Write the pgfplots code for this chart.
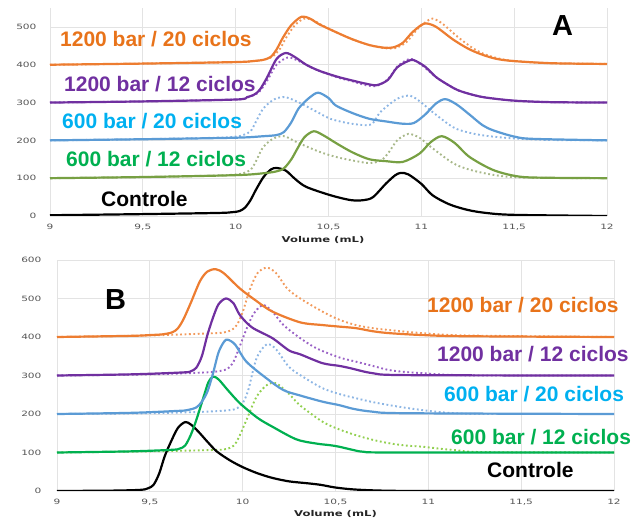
\documentclass[border=0pt]{standalone}
\usepackage{pgfplots}
\pgfplotsset{compat=1.18}
\usepackage{fontspec}
\setmainfont{Liberation Sans}
\newfontfamily\tickfont[FakeStretch=1.45]{DejaVu Sans}
\definecolor{cOr}{HTML}{ED7D31}
\definecolor{cOrD}{HTML}{F29A5C}
\definecolor{cPu}{HTML}{7030A0}
\definecolor{cPuD}{HTML}{9A62C6}
\definecolor{cBl}{HTML}{5B9BD5}
\definecolor{cBlD}{HTML}{8DB6E4}
\definecolor{cGrA}{HTML}{77A043}
\definecolor{cGrAD}{HTML}{A8B88A}
\definecolor{cGrB}{HTML}{00B050}
\definecolor{cGrBD}{HTML}{92D050}
\definecolor{lOr}{HTML}{E8731A}
\definecolor{lPu}{HTML}{7030A0}
\definecolor{lCy}{HTML}{00B0F0}
\definecolor{lGr}{HTML}{00B050}
\definecolor{gridc}{HTML}{E3E3E3}
\definecolor{tickc}{HTML}{555555}
\pgfplotsset{
  chrom/.style={
    scale only axis, xmin=9, xmax=12,
    axis line style={draw=none},
    major tick length=0pt,
    grid=major, grid style={gridc, line width=0.8pt},
    xtick={9,9.5,10,10.5,11,11.5,12},
    xticklabels={9,{9,5},10,{10,5},11,{11,5},12},
    tick label style={font=\tickfont\fontsize{7.3}{8}\selectfont, text=tickc},
    x tick label style={yshift=-5pt},
  },
  sol/.style={smooth, tension=0.5, line width=2.2pt, no markers},
  dot/.style={smooth, tension=0.5, line width=1.9pt, no markers, dash pattern=on 1.8pt off 2.6pt},
}
\newcommand{\lab}[4]{\node[anchor=base west, inner sep=0pt, text=#3, font=\bfseries\fontsize{21}{24}\selectfont] at (#1pt,#2pt) {#4};}
\begin{document}
\begin{tikzpicture}
\path[use as bounding box] (0,0) rectangle (643pt,519pt);
% ---------- Panel A ----------
\begin{axis}[chrom, at={(50pt,303pt)}, anchor=south west, width=557pt, height=208pt,
  ymin=0, ymax=550, ytick={0,100,200,300,400,500}, yticklabels={0,100,200,300,400,500},
  y tick label style={xshift=-10pt}]
% green dotted
\addplot[dot, cGrAD] coordinates {(9,100) (9.5,103) (9.9,107) (10.0,110) (10.04,113) (10.08,122) (10.11,145) (10.145,180) (10.2,204) (10.26,211) (10.33,195) (10.45,170) (10.55,155) (10.65,145) (10.72,140) (10.78,146) (10.82,165) (10.87,200) (10.93,217) (10.99,207) (11.05,183) (11.17,140) (11.25,124) (11.35,112) (11.46,104) (11.6,101) (12,100)};
% blue dotted
\addplot[dot, cBlD] coordinates {(9,200) (9.5,203) (9.9,207) (10.0,210) (10.04,214) (10.08,224) (10.11,250) (10.15,285) (10.21,309) (10.27,314) (10.35,298) (10.45,272) (10.51,257) (10.6,246) (10.7,240) (10.74,246) (10.78,275) (10.87,310) (10.94,318) (11.0,300) (11.05,279) (11.17,235) (11.26,220) (11.35,212) (11.5,205) (11.7,201) (12,200)};
% purple dotted
\addplot[dot, cPuD] coordinates {(9,300) (9.5,303) (10,308) (10.06,313) (10.1,320) (10.13,330) (10.17,358) (10.22,400) (10.28,419) (10.33,412) (10.4,395) (10.45,384) (10.55,366) (10.63,356) (10.7,346) (10.76,344) (10.82,362) (10.87,395) (10.92,412) (10.95,415) (11.0,400) (11.08,367) (11.15,345) (11.2,332) (11.28,320) (11.35,313) (11.5,305) (11.7,301) (12,300)};
% orange dotted
\addplot[dot, cOrD] coordinates {(9,400) (9.5,403) (10,407) (10.1,410) (10.16,414) (10.2,422) (10.24,443) (10.27,470) (10.32,505) (10.37,522) (10.42,517) (10.47,503) (10.55,484) (10.63,467) (10.72,452) (10.8,444) (10.86,444) (10.92,460) (10.98,495) (11.03,515) (11.06,522) (11.11,510) (11.2,472) (11.28,443) (11.35,426) (11.45,413) (11.55,408) (11.7,404) (12,402)};
% black
\addplot[sol, black] coordinates {(9,2) (9.5,5) (9.9,8) (9.98,10) (10.02,13) (10.05,22) (10.08,42) (10.11,70) (10.15,103) (10.19,123) (10.22,127) (10.27,120) (10.32,98) (10.38,77) (10.51,55) (10.62,42) (10.69,42) (10.74,50) (10.81,86) (10.86,108) (10.89,114) (10.93,110) (11.0,85) (11.06,55) (11.15,31) (11.25,16) (11.35,8) (11.5,3) (12,0)};
% green solid
\addplot[sol, cGrA] coordinates {(9,100) (9.5,103) (10,108) (10.15,113) (10.22,118) (10.26,126) (10.3,150) (10.33,176) (10.37,208) (10.42,224) (10.47,214) (10.55,190) (10.63,168) (10.72,150) (10.81,145) (10.9,143) (10.99,165) (11.05,195) (11.11,211) (11.18,193) (11.26,156) (11.39,121) (11.53,104) (11.7,101) (12,100)};
% blue solid
\addplot[sol, cBl] coordinates {(9,200) (9.5,203) (10,207) (10.15,211) (10.22,214) (10.26,222) (10.3,248) (10.34,285) (10.4,314) (10.445,326) (10.5,312) (10.54,292) (10.63,272) (10.72,257) (10.81,250) (10.9,244) (10.96,246) (11.02,268) (11.08,298) (11.13,309) (11.19,295) (11.26,268) (11.33,240) (11.39,226) (11.5,210) (11.6,204) (12,200)};
% purple solid
\addplot[sol, cPu] coordinates {(9,300) (9.5,303) (10,308) (10.06,314) (10.1,321) (10.13,334) (10.17,367) (10.22,415) (10.27,431) (10.32,420) (10.38,400) (10.45,384) (10.55,368) (10.63,358) (10.7,350) (10.76,346) (10.82,360) (10.87,393) (10.93,410) (10.96,412) (11.02,395) (11.08,367) (11.15,345) (11.2,332) (11.28,320) (11.35,313) (11.5,305) (11.7,301) (12,300)};
% orange solid
\addplot[sol, cOr] coordinates {(9,400) (9.5,403) (10,407) (10.1,410) (10.15,413) (10.19,421) (10.22,440) (10.255,472) (10.3,505) (10.355,527) (10.4,522) (10.45,507) (10.55,484) (10.63,467) (10.72,452) (10.8,445) (10.85,446) (10.9,458) (10.95,485) (11.0,505) (11.03,509) (11.08,500) (11.17,467) (11.25,443) (11.32,428) (11.4,416) (11.49,410) (11.7,404) (12,402)};
\end{axis}
% ---------- Panel B ----------
\begin{axis}[chrom, at={(57pt,28pt)}, anchor=south west, width=557pt, height=231pt,
  ymin=0, ymax=600, ytick={0,100,200,300,400,500,600}, yticklabels={0,100,200,300,400,500,600},
  y tick label style={xshift=-12pt}]
% green dotted
\addplot[dot, cGrBD] coordinates {(9,100) (9.5,103) (9.8,106) (9.9,108) (9.95,117) (9.98,140) (10.02,184) (10.075,245) (10.13,275) (10.18,280) (10.25,252) (10.31,222) (10.43,180) (10.52,160) (10.61,145) (10.7,133) (10.79,124) (10.88,118) (10.97,115) (11.06,110) (11.15,106) (11.3,101) (12,100)};
% blue dotted
\addplot[dot, cBlD] coordinates {(9,200) (9.5,202) (9.8,206) (9.93,210) (9.97,215) (10.0,228) (10.03,262) (10.075,345) (10.13,381) (10.18,368) (10.25,322) (10.33,295) (10.43,267) (10.52,252) (10.61,241) (10.7,231) (10.79,223) (10.88,216) (10.97,210) (11.06,205) (11.15,202) (11.3,200) (12,200)};
% purple dotted
\addplot[dot, cPuD] coordinates {(9,300) (9.5,303) (9.8,308) (9.88,312) (9.92,318) (9.95,335) (9.98,370) (10.02,420) (10.06,461) (10.11,483) (10.16,466) (10.22,431) (10.31,397) (10.4,370) (10.52,347) (10.61,336) (10.7,325) (10.79,314) (10.88,309) (10.97,306) (11.1,302) (11.3,300) (12,300)};
% orange dotted
\addplot[dot, cOrD] coordinates {(9,400) (9.5,404) (9.85,410) (9.9,412) (9.94,418) (9.97,432) (10.0,465) (10.04,525) (10.08,566) (10.13,580) (10.18,566) (10.24,526) (10.31,500) (10.43,466) (10.52,445) (10.61,431) (10.7,423) (10.79,418) (10.97,410) (11.2,404) (12,400)};
% black
\addplot[sol, black] coordinates {(9,0) (9.3,1) (9.45,3) (9.49,7) (9.52,16) (9.55,45) (9.58,90) (9.61,124) (9.65,163) (9.69,179) (9.72,173) (9.76,155) (9.81,128) (9.86,103) (9.93,80) (10.0,62) (10.08,46) (10.16,34) (10.25,25) (10.35,20) (10.42,16) (10.5,9) (10.6,4) (10.75,1) (11,0) (12,0)};
% green solid
\addplot[sol, cGrB] coordinates {(9,100) (9.4,103) (9.62,107) (9.66,110) (9.69,118) (9.72,145) (9.75,184) (9.79,245) (9.815,282) (9.84,297) (9.87,290) (9.92,262) (9.985,228) (10.08,190) (10.16,167) (10.29,134) (10.4,123) (10.47,119) (10.52,115) (10.6,106) (10.65,102) (10.8,100) (12,100)};
% blue solid
\addplot[sol, cBl] coordinates {(9,200) (9.4,203) (9.65,208) (9.7,210) (9.75,217) (9.78,232) (9.81,258) (9.84,305) (9.87,360) (9.9,388) (9.92,393) (9.96,380) (10.02,336) (10.13,292) (10.22,262) (10.31,248) (10.43,232) (10.52,223) (10.6,213) (10.7,206) (10.88,202) (12,200)};
% purple solid
\addplot[sol, cPu] coordinates {(9,300) (9.4,303) (9.68,308) (9.72,311) (9.75,320) (9.78,350) (9.81,405) (9.84,450) (9.87,485) (9.91,500) (9.95,488) (9.985,457) (10.05,425) (10.16,397) (10.25,365) (10.31,355) (10.43,332) (10.52,325) (10.58,319) (10.7,306) (10.88,301) (12,300)};
% orange solid
\addplot[sol, cOr] coordinates {(9,400) (9.4,403) (9.5,405) (9.57,407) (9.62,412) (9.65,422) (9.68,445) (9.72,488) (9.77,545) (9.81,570) (9.855,576) (9.9,565) (9.985,526) (10.07,495) (10.16,466) (10.31,438) (10.43,431) (10.52,427) (10.61,423) (10.7,415) (10.79,410) (10.97,405) (11.2,402) (12,400)};
\end{axis}
% ---------- labels ----------
\lab{60}{472.3}{lOr}{1200 bar / 20 ciclos}
\lab{64}{427.3}{lPu}{1200 bar / 12 ciclos}
\lab{62}{390.7}{lCy}{600 bar / 20 ciclos}
\lab{66}{352.3}{lGr}{600 bar / 12 ciclos}
\lab{101}{312.3}{black}{Controle}
\node[anchor=base west, inner sep=0pt, font=\bfseries\fontsize{29}{32}\selectfont] at (552pt,483.3pt) {A};
\lab{427}{206.3}{lOr}{1200 bar / 20 ciclos}
\lab{437}{157.3}{lPu}{1200 bar / 12 ciclos}
\lab{444}{117.3}{lCy}{600 bar / 20 ciclos}
\lab{451}{74}{lGr}{600 bar / 12 ciclos}
\lab{487}{41.3}{black}{Controle}
\node[anchor=base west, inner sep=0pt, font=\bfseries\fontsize{29}{32}\selectfont] at (105pt,209.7pt) {B};
\node[font=\tickfont\bfseries\fontsize{8}{9}\selectfont, text=black!85] at (323pt,279pt) {Volume (mL)};
\node[font=\tickfont\bfseries\fontsize{8}{9}\selectfont, text=black!85] at (335.5pt,5pt) {Volume (mL)};
\end{tikzpicture}
\end{document}
